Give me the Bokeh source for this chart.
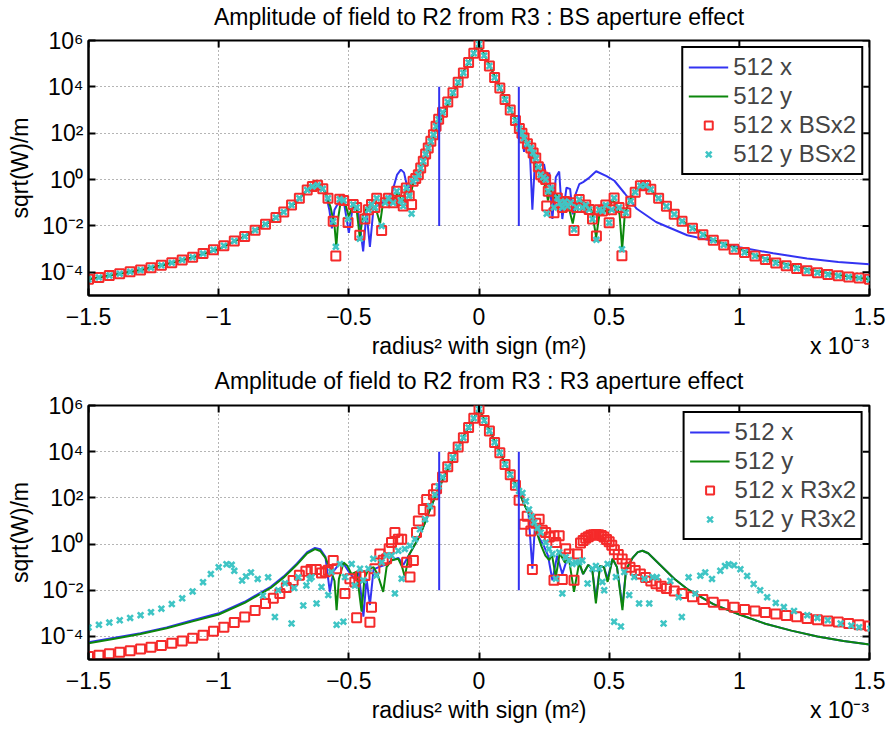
import numpy as np
from bokeh.plotting import figure
from bokeh.models import (Range1d, LinearAxis, FixedTicker, CustomJSTickFormatter, Legend, LegendItem)
from bokeh.layouts import column
from bokeh.embed import file_html
from bokeh.resources import INLINE

FONT = "Liberation Sans"

# ---------------- data (x in units of 1e-3 m^2, y given as log10 of sqrt(W)/m) ----------------
x_ticks = [-1.5, -1.0, -0.5, 0.0, 0.5, 1.0, 1.5]
y_ticks = [1e-4, 1e-2, 1e0, 1e2, 1e4, 1e6]
x_label_text = "radius\u00b2 with sign (m\u00b2)"
x_scale_text = "x 10\u207b\u00b3"
x_label_pos = [0.0, 1.385]

aperture_x = [-0.153, 0.153]
aperture_lo = [1e-2, 1e-2]
aperture_hi = [1e4, 1e4]

# ---- top panel : BS aperture effect ----
blue_top_x = [-1.50, -1.40, -1.30, -1.20, -1.10, -1.00, -0.90, -0.80, -0.75, -0.70, -0.66, -0.63, -0.61, -0.59,
              -0.575, -0.565, -0.555, -0.54, -0.52, -0.50, -0.485, -0.465, -0.445, -0.432, -0.419, -0.405, -0.385,
              -0.36, -0.335, -0.315, -0.30, -0.288, -0.275, -0.26, -0.25, -0.23, -0.21, -0.19, -0.17, -0.153,
              -0.10, -0.05, 0.00, 0.05, 0.10, 0.153,
              0.165, 0.173, 0.182, 0.195, 0.205, 0.215, 0.228, 0.24, 0.25, 0.26, 0.27, 0.282, 0.295, 0.308, 0.32,
              0.336, 0.35, 0.36, 0.372, 0.385, 0.40, 0.42, 0.45, 0.49, 0.52, 0.56, 0.606, 0.68, 0.80, 0.88, 1.00,
              1.13, 1.26, 1.38, 1.50]
blue_top_log = [-4.30, -4.10, -3.90, -3.65, -3.35, -3.00, -2.45, -1.80, -1.40, -0.95, -0.45, -0.25, -0.28, -0.55,
                -1.3, -2.1, -1.3, -1.0, -0.9, -2.3, -1.2, -1.3, -3.1, -1.4, -2.9, -1.2, -1.1,
                -0.9, -0.6, 0.2, 0.43, 0.3, -0.35, -0.3, 0.0, 0.3, 0.85, 1.45, 2.0, 2.45,
                3.7, 4.85, 5.85, 4.7, 3.5, 2.3,
                1.9, 1.2, 1.6, 1.3, -1.3, 0.8, 0.5, 0.65, 0.65, 0.0, 0.3, -1.7, 0.1, 0.35, -1.7,
                -0.35, -0.4, -1.5, -0.6, -0.2, -0.11, 0.05, 0.36, 0.15, -0.05, -0.6, -1.26, -1.83, -2.4, -2.6, -2.92,
                -3.18, -3.4, -3.55, -3.65]

green_top_x = [-1.50, -1.40, -1.30, -1.20, -1.10, -1.00, -0.90, -0.80, -0.75, -0.70, -0.66, -0.63, -0.61, -0.59,
               -0.57, -0.555, -0.548, -0.54, -0.53, -0.515, -0.50, -0.485, -0.47, -0.458, -0.445, -0.43, -0.41,
               -0.395, -0.38, -0.37, -0.35, -0.33, -0.31, -0.295, -0.28, -0.265, -0.25, -0.23, -0.21, -0.19,
               -0.17, -0.153,
               -0.10, -0.05, 0.00, 0.05, 0.10, 0.153,
               0.17, 0.19, 0.21, 0.225, 0.24, 0.255, 0.265, 0.275, 0.29, 0.30, 0.315, 0.33, 0.345, 0.36, 0.375,
               0.39, 0.405, 0.42, 0.435, 0.45, 0.465, 0.48, 0.495, 0.51, 0.525, 0.54, 0.55, 0.56, 0.575, 0.595,
               0.615, 0.635, 0.66, 0.70, 0.75, 0.80, 0.90, 1.00, 1.10, 1.20, 1.30, 1.40, 1.50]
green_top_log = [-4.30, -4.10, -3.90, -3.65, -3.35, -3.00, -2.45, -1.80, -1.40, -0.95, -0.45, -0.25, -0.28, -0.55,
                 -1.2, -2.0, -2.9, -1.6, -0.85, -1.0, -1.6, -1.1, -1.3, -2.5, -1.5, -1.2, -1.1,
                 -1.3, -1.9, -1.1, -0.8, -0.9, -0.55, -1.0, -0.4, -0.8, 0.0, 0.3, 0.85, 1.45,
                 2.0, 2.45,
                 3.7, 4.85, 5.85, 4.7, 3.5, 2.3,
                 1.8, 1.35, 0.9, 0.4, 0.1, -0.3, -0.9, -0.4, -0.8, -0.65, -1.1, -0.9, -1.2, -1.9, -1.0,
                 -0.85, -1.3, -1.1, -1.4, -2.5, -1.3, -1.2, -1.5, -0.9, -1.0, -1.5, -3.0, -1.5, -1.0, -0.55,
                 -0.3, -0.25, -0.45, -0.95, -1.5, -1.95, -2.6, -3.0, -3.4, -3.7, -3.95, -4.15, -4.3]

marker_top_x = [-1.50, -1.46, -1.42, -1.38, -1.34, -1.30, -1.26, -1.22, -1.18, -1.14, -1.10, -1.06, -1.02, -0.98,
                -0.94, -0.90, -0.86, -0.82, -0.78, -0.75, -0.72, -0.69, -0.66, -0.64, -0.62, -0.60, -0.58,
                -0.56, -0.55, -0.535, -0.52, -0.503, -0.483, -0.47, -0.458, -0.438, -0.425, -0.413, -0.40, -0.393,
                -0.374, -0.36, -0.348, -0.33, -0.316, -0.30, -0.291, -0.279, -0.268, -0.259, -0.253, -0.243,
                -0.233, -0.224, -0.214, -0.205, -0.195, -0.185, -0.175, -0.165, -0.155,
                -0.14, -0.12, -0.10, -0.08, -0.06, -0.04, -0.02, 0.0, 0.02, 0.04, 0.06, 0.08, 0.10, 0.12, 0.14,
                0.155, 0.165, 0.173, 0.186, 0.199, 0.208, 0.218, 0.228, 0.237, 0.247, 0.256, 0.26, 0.266, 0.276,
                0.288, 0.301, 0.31, 0.32, 0.33, 0.34, 0.352, 0.365, 0.375, 0.385, 0.397, 0.41, 0.423, 0.436,
                0.451, 0.462, 0.474, 0.487, 0.50, 0.51, 0.519, 0.538, 0.549, 0.564, 0.583, 0.60, 0.62, 0.64, 0.66,
                0.69, 0.72, 0.75, 0.78, 0.82, 0.86, 0.90, 0.94, 0.98, 1.02, 1.06, 1.10, 1.14, 1.18, 1.22, 1.26,
                1.30, 1.34, 1.38, 1.42, 1.46, 1.50]
red_top_log = [-4.30, -4.22, -4.14, -4.06, -3.98, -3.90, -3.80, -3.70, -3.59, -3.47, -3.35, -3.19, -3.03, -2.85,
               -2.65, -2.45, -2.19, -1.93, -1.64, -1.40, -1.10, -0.80, -0.45, -0.30, -0.24, -0.40, -0.80,
               -1.8, -3.3, -0.85, -0.9, -1.85, -1.07, -1.2, -2.4, -1.7, -1.3, -1.07, -1.2, -0.8,
               -2.2, -1.0, -0.8, -1.0, -0.5, -0.9, -1.14, -0.36, -0.7, -1.07, -0.07, 0.05,
               0.21, 0.5, 0.79, 1.1, 1.36, 1.65, 1.93, 2.3, 2.6,
               2.9, 3.35, 3.75, 4.2, 4.6, 5.05, 5.45, 5.85, 5.35, 4.9, 4.4, 3.95, 3.45, 3.0, 2.55,
               2.2, 2.0, 1.79, 1.55, 1.36, 1.15, 0.93, 0.55, 0.21, 0.1, 0.0, -1.14, -0.5, -0.36,
               -1.43, -0.79, -1.0, -1.2, -0.95, -1.14, -1.0, -2.2, -1.2, -0.86, -1.2, -1.1, -1.29, -1.7,
               -2.43, -1.3, -1.36, -1.1, -1.86, -1.3, -0.79, -1.2, -3.29, -1.43, -0.93, -0.55, -0.27, -0.25, -0.42,
               -0.8, -1.15, -1.5, -1.8, -2.1, -2.38, -2.62, -2.82, -3.0, -3.15, -3.3, -3.45, -3.6, -3.72, -3.83, -3.93,
               -4.02, -4.09, -4.15, -4.2, -4.25, -4.3]
cyan_top_log = [-4.30, -4.22, -4.14, -4.06, -3.98, -3.90, -3.80, -3.70, -3.59, -3.47, -3.35, -3.19, -3.03, -2.85,
                -2.65, -2.45, -2.19, -1.93, -1.64, -1.40, -1.10, -0.80, -0.45, -0.30, -0.24, -0.40, -0.80,
                -1.8, -2.9, -0.85, -0.9, -1.7, -1.07, -1.2, -2.55, -1.7, -1.3, -1.07, -1.2, -0.8,
                -2.0, -1.0, -0.8, -1.0, -0.5, -0.9, -1.14, -0.36, -0.7, -1.47, -0.07, 0.05,
                0.21, 0.5, 0.79, 1.1, 1.36, 1.65, 1.93, 2.3, 2.6,
                2.9, 3.35, 3.75, 4.2, 4.6, 5.05, 5.45, 5.85, 5.35, 4.9, 4.4, 3.95, 3.45, 3.0, 2.55,
                2.2, 2.0, 1.79, 1.55, 1.36, 1.15, 0.93, 0.55, 0.21, 0.1, 0.0, -1.47, -0.5, -0.36,
                -1.2, -0.79, -1.0, -1.2, -0.95, -1.14, -1.0, -2.15, -1.2, -0.86, -1.2, -1.1, -1.29, -1.7,
                -2.6, -1.3, -1.36, -1.1, -1.86, -1.3, -0.79, -1.2, -3.0, -1.43, -0.93, -0.55, -0.27, -0.25, -0.42,
                -0.8, -1.15, -1.5, -1.8, -2.1, -2.38, -2.62, -2.82, -3.0, -3.15, -3.3, -3.45, -3.6, -3.72, -3.83, -3.93,
                -4.02, -4.09, -4.15, -4.2, -4.25, -4.3]

# ---- bottom panel : R3 aperture effect ----
blue_bot_x = [-1.50, -1.40, -1.30, -1.20, -1.10, -1.00, -0.90, -0.80, -0.75, -0.70, -0.66, -0.63, -0.61, -0.59,
              -0.573, -0.56, -0.54, -0.52, -0.50, -0.48, -0.462, -0.444, -0.432, -0.419, -0.405, -0.385, -0.36,
              -0.335, -0.31, -0.29, -0.27, -0.25, -0.23, -0.21, -0.19, -0.17, -0.153,
              -0.10, -0.05, 0.00, 0.05, 0.10, 0.153,
              0.17, 0.19, 0.205, 0.215, 0.23, 0.25, 0.265, 0.282, 0.30, 0.32, 0.34, 0.36, 0.38,
              0.40, 0.42, 0.435, 0.449, 0.465, 0.48, 0.494, 0.513, 0.53, 0.551, 0.565, 0.59, 0.61, 0.628, 0.65,
              0.70, 0.75, 0.80, 0.90, 1.00, 1.10, 1.20, 1.30, 1.40, 1.50]
blue_bot_log = [-4.25, -4.06, -3.86, -3.61, -3.30, -3.00, -2.50, -1.85, -1.40, -0.85, -0.35, -0.17, -0.22, -0.55,
                -2.07, -1.2, -0.9, -0.85, -1.2, -1.5, -1.2, -3.14, -1.5, -2.64, -1.1, -1.0, -0.9,
                -0.7, -0.6, -0.9, -0.5, -0.1, 0.3, 0.85, 1.45, 2.0, 2.45,
                3.7, 4.85, 5.85, 4.7, 3.5, 2.3,
                1.8, 1.35, -1.07, 0.8, 0.3, -0.1, -0.5, -1.57, -0.5, -1.3, -0.6, -0.9, -0.7,
                -1.3, -0.9, -1.1, -2.4, -0.95, -1.0, -1.5, -0.64, -1.0, -2.7, -1.1, -0.6, -0.35, -0.29, -0.4,
                -0.95, -1.5, -1.95, -2.6, -3.05, -3.45, -3.75, -4.0, -4.2, -4.35]

green_bot_x = [-1.50, -1.40, -1.30, -1.20, -1.10, -1.00, -0.90, -0.80, -0.75, -0.70, -0.66, -0.63, -0.61, -0.59,
               -0.57, -0.555, -0.547, -0.538, -0.52, -0.505, -0.49, -0.47, -0.451, -0.44, -0.425, -0.405, -0.39,
               -0.368, -0.355, -0.335, -0.31, -0.295, -0.285, -0.27, -0.25, -0.23, -0.21, -0.19, -0.17, -0.153,
               -0.10, -0.05, 0.00, 0.05, 0.10, 0.153,
               0.17, 0.19, 0.21, 0.225, 0.24, 0.255, 0.27, 0.28, 0.295, 0.31, 0.33, 0.345, 0.365, 0.385,
               0.40, 0.42, 0.435, 0.449, 0.465, 0.48, 0.494, 0.513, 0.53, 0.551, 0.565, 0.59, 0.61, 0.628, 0.65,
               0.70, 0.75, 0.80, 0.90, 1.00, 1.10, 1.20, 1.30, 1.40, 1.50]
green_bot_log = [-4.30, -4.10, -3.90, -3.65, -3.35, -3.05, -2.55, -1.90, -1.45, -0.90, -0.40, -0.22, -0.30, -0.60,
                 -1.1, -1.6, -2.86, -1.5, -0.8, -0.95, -1.3, -1.2, -2.93, -1.5, -1.1, -1.0, -1.3,
                 -2.07, -1.0, -0.7, -0.64, -1.0, -1.43, -0.5, -0.1, 0.3, 0.85, 1.45, 2.0, 2.45,
                 3.7, 4.85, 5.85, 4.7, 3.5, 2.3,
                 1.8, 1.35, 0.9, 0.4, -0.1, -0.5, -0.7, -0.45, -1.43, -0.4, -0.8, -0.6, -2.07, -0.79,
                 -1.3, -0.9, -1.1, -2.57, -0.95, -1.0, -1.64, -0.64, -1.0, -2.86, -1.1, -0.6, -0.35, -0.29, -0.4,
                 -0.95, -1.5, -1.95, -2.6, -3.05, -3.45, -3.75, -4.0, -4.2, -4.35]

red_bot_x = [-1.50, -1.46, -1.42, -1.38, -1.34, -1.30, -1.26, -1.22, -1.18, -1.14, -1.10, -1.06, -1.02, -0.98,
             -0.94, -0.90, -0.86, -0.82, -0.79, -0.765, -0.74, -0.714, -0.69, -0.665, -0.645, -0.625, -0.605, -0.59,
             -0.579, -0.56, -0.547, -0.515, -0.496, -0.477, -0.47, -0.455, -0.438, -0.419, -0.413, -0.40, -0.381,
             -0.368, -0.355, -0.345, -0.336, -0.323, -0.31, -0.297, -0.278, -0.265, -0.252, -0.24, -0.233, -0.214,
             -0.201, -0.188, -0.175, -0.163,
             -0.14, -0.12, -0.10, -0.08, -0.06, -0.04, -0.02, 0.0, 0.02, 0.04, 0.06, 0.08, 0.10, 0.12, 0.14,
             0.154, 0.173, 0.185, 0.199, 0.205, 0.218, 0.231, 0.243, 0.256, 0.27, 0.288, 0.288, 0.295, 0.308,
             0.32, 0.333, 0.346, 0.365, 0.378,
             0.39, 0.40, 0.41, 0.42, 0.43, 0.44, 0.45, 0.46, 0.47, 0.48, 0.49, 0.50, 0.51, 0.52, 0.535, 0.55,
             0.565, 0.58, 0.60, 0.62, 0.64, 0.66, 0.68, 0.70, 0.72, 0.75, 0.78, 0.82, 0.86, 0.90, 0.94, 0.98,
             1.02, 1.06, 1.10, 1.14, 1.18, 1.22, 1.26, 1.30, 1.34, 1.38, 1.42, 1.46, 1.50]
red_bot_log = [-4.87, -4.82, -4.75, -4.69, -4.62, -4.55, -4.47, -4.39, -4.30, -4.20, -4.08, -3.95, -3.78, -3.60,
               -3.40, -3.16, -2.88, -2.58, -2.35, -2.14, -1.88, -1.58, -1.35, -1.18, -1.10, -1.10, -1.25, -1.20,
               -1.14, -0.71, -1.07, -2.14, -1.5, -1.64, -3.19, -1.4, -1.36, -3.39, -2.74, -1.07, -0.43,
               -0.7, -0.64, -0.2, 0.07, 0.5, 0.21, 0.21, -0.79, -1.43, -0.71, 0.5, 1.0, 1.5,
               1.93, 1.43, 2.14, 2.4,
               2.9, 3.35, 3.75, 4.2, 4.6, 5.05, 5.45, 5.85, 5.35, 4.9, 4.4, 3.95, 3.45, 3.0, 2.55,
               1.9, 0.86, 1.2, 0.57, -1.1, 0.9, 1.07, 0.6, 0.5, 0.3, 0.36, -1.57, 0.07, 0.36,
               -1.54, -0.2, -0.43, -1.57, -0.43,
               0.05, 0.15, 0.25, 0.32, 0.38, 0.4, 0.41, 0.4, 0.37, 0.3, 0.2, 0.1, -0.05, -0.25, -0.45, -0.65,
               -0.85, -1.0, -1.15, -1.3, -1.45, -1.6, -1.72, -1.83, -1.93, -2.03, -2.14, -2.28, -2.4, -2.52, -2.63, -2.74,
               -2.83, -2.9, -2.96, -3.03, -3.09, -3.15, -3.22, -3.28, -3.33, -3.38, -3.44, -3.50, -3.55]

cyan_bot_x = [-1.50, -1.46, -1.42, -1.38, -1.34, -1.30, -1.26, -1.22, -1.18, -1.14,
              -1.10, -1.06, -1.03, -1.00, -0.97, -0.95, -0.94, -0.91, -0.895, -0.876,
              -0.85, -0.83, -0.81, -0.784, -0.771, -0.745, -0.72, -0.71, -0.694, -0.675,
              -0.663, -0.65, -0.643, -0.624, -0.605, -0.579, -0.567, -0.547, -0.534,
              -0.521, -0.515, -0.489, -0.477, -0.457, -0.444, -0.425, -0.406, -0.394, -0.374,
              -0.355, -0.336, -0.323, -0.31, -0.297, -0.285, -0.265, -0.246, -0.227, -0.207,
              -0.188, -0.169, -0.155,
              -0.14, -0.12, -0.10, -0.08, -0.06, -0.04, -0.02, 0.0, 0.02, 0.04, 0.06, 0.08, 0.10, 0.12, 0.14,
              0.154, 0.167, 0.18, 0.192, 0.202, 0.212, 0.225, 0.237, 0.256, 0.269,
              0.282, 0.295, 0.308, 0.32, 0.333, 0.346, 0.359, 0.372, 0.385, 0.397,
              0.417, 0.436, 0.449, 0.462, 0.474, 0.481, 0.494, 0.519, 0.526, 0.545,
              0.558, 0.577, 0.596, 0.615, 0.635, 0.654, 0.667, 0.683, 0.709, 0.735,
              0.767, 0.779, 0.805, 0.831, 0.85, 0.869, 0.895, 0.927, 0.945, 0.959,
              0.98, 1.004, 1.03, 1.055, 1.08, 1.107, 1.14, 1.171, 1.21, 1.261,
              1.30, 1.34, 1.389, 1.43, 1.46, 1.504]
cyan_bot_log = [-3.61, -3.5, -3.4, -3.3, -3.2, -3.08, -2.95, -2.8, -2.6, -2.35,
                -2.05, -1.65, -1.3, -1.0, -0.87, -0.9, -1.16, -1.58, -1.4, -1.23,
                -1.51, -2.23, -1.44, -3.16, -2.0, -1.7, -3.44, -1.9, -1.44, -2.66,
                -1.79, -1.51, -1.43, -2.57, -1.86, -2.21, -1.21, -3.5, -0.86,
                -3.36, -1.43, -0.86, -1.79, -1.07, -1.57, -1.07, -0.64, -1.36, -0.79,
                -0.5, -0.5, -2.14, -0.29, -1.5, -0.21, -0.07, 0.21, 0.64, 1.07,
                1.64, 2.14, 2.5,
                2.9, 3.35, 3.75, 4.2, 4.6, 5.05, 5.45, 5.85, 5.35, 4.9, 4.4, 3.95, 3.45, 3.0, 2.55,
                2.3, 2.21, 1.85, 1.5, 1.2, 0.93, 0.7, 0.5, 0.07, -0.21,
                -0.43, -1.5, -0.36, -2.14, -0.57, -0.7, -0.86, -0.8, -0.79, -0.71,
                -1.71, -1.07, -0.95, -1.07, -1.64, -2.0, -0.86, -3.36, -1.43, -3.57,
                -1.21, -2.21, -1.43, -2.57, -1.5, -2.57, -1.43, -1.44, -3.44, -1.6,
                -2.3, -3.16, -1.44, -2.15, -1.37, -1.23, -1.51, -1.16, -0.95, -0.87,
                -0.92, -1.09, -1.38, -1.73, -2.0, -2.3, -2.55, -2.73, -2.9, -3.08,
                -3.2, -3.3, -3.44, -3.53, -3.6, -3.66]

for a, b in [(blue_top_x, blue_top_log), (green_top_x, green_top_log), (marker_top_x, red_top_log),
             (marker_top_x, cyan_top_log), (blue_bot_x, blue_bot_log), (green_bot_x, green_bot_log),
             (red_bot_x, red_bot_log), (cyan_bot_x, cyan_bot_log)]:
    assert len(a) == len(b), (len(a), len(b))


def dec(v):
    return [10.0 ** e for e in v]


BLUE = "#3333f2"
GREEN = "#0c870c"
RED = "#f52a2a"
CYAN = "#3fc5c5"
FS = "23px"

Y_FMT = CustomJSTickFormatter(code="""
const e = Math.round(Math.log10(tick));
const m = {"-": "\u207b", "0": "\u2070", "1": "\u00b9", "2": "\u00b2", "3": "\u00b3", "4": "\u2074",
           "5": "\u2075", "6": "\u2076", "7": "\u2077", "8": "\u2078", "9": "\u2079"};
return "10" + String(e).split("").map(c => m[c]).join("");
""")
X_FMT = CustomJSTickFormatter(code="""
return tick < 0 ? "\u2212" + Math.abs(tick) : "" + tick;
""")
XLAB_FMT = CustomJSTickFormatter(args=dict(a=x_label_text, b=x_scale_text), code="""
return tick == 0 ? a : b;
""")


def style_axis(ax):
    ax.major_tick_in = 7
    ax.major_tick_out = 0
    ax.minor_tick_line_color = None
    ax.axis_line_width = 2
    ax.major_tick_line_width = 2
    ax.axis_line_color = "black"
    ax.major_tick_line_color = "black"
    ax.major_label_text_font = FONT
    ax.major_label_text_font_size = FS
    ax.major_label_text_color = "black"
    ax.axis_label_text_font = FONT
    ax.axis_label_text_font_size = FS
    ax.axis_label_text_font_style = "normal"
    ax.axis_label_text_color = "black"


def bare_axis(ax):
    ax.axis_line_color = None
    ax.major_tick_line_color = None
    ax.minor_tick_line_color = None
    ax.major_tick_in = 0
    ax.major_tick_out = 0
    ax.major_label_text_font = FONT
    ax.major_label_text_font_size = FS
    ax.major_label_text_color = "black"
    ax.axis_label_text_font = FONT
    ax.axis_label_text_font_size = FS
    ax.axis_label_text_font_style = "normal"
    ax.axis_label_text_color = "black"


def panel(title, height, b_top, b_bottom, title_gap, bx, by, gx, gy, rx, ry, cx, cy, names):
    p = figure(width=889, height=height, x_range=Range1d(-1.5, 1.5), y_range=Range1d(1e-5, 1e6),
               y_axis_type="log", output_backend="svg", toolbar_location=None,
               min_border_left=88, min_border_right=20, min_border_top=b_top, min_border_bottom=b_bottom)
    p.background_fill_color = "white"
    p.border_fill_color = "white"
    p.outline_line_color = "black"
    p.outline_line_width = 2

    x_ax = p.below[0]
    y_ax = p.left[0]
    x_ax.ticker = FixedTicker(ticks=x_ticks)
    x_ax.formatter = X_FMT
    y_ax.ticker = FixedTicker(ticks=y_ticks)
    y_ax.formatter = Y_FMT
    y_ax.axis_label = "sqrt(W)/m"
    style_axis(x_ax)
    style_axis(y_ax)
    x_ax.major_label_standoff = 12
    y_ax.major_label_standoff = 5
    y_ax.axis_label_standoff = 4

    # title drawn as the label of an (otherwise empty) top axis
    top_ax = LinearAxis(ticker=FixedTicker(ticks=[]), axis_label=title)
    bare_axis(top_ax)
    top_ax.major_label_standoff = 0
    top_ax.axis_label_standoff = title_gap
    p.add_layout(top_ax, "above")

    # second row below: x-axis label and the "x 10^-3" multiplier on one line
    lab_ax = LinearAxis(ticker=FixedTicker(ticks=x_label_pos), formatter=XLAB_FMT)
    bare_axis(lab_ax)
    lab_ax.major_label_standoff = 5
    p.add_layout(lab_ax, "below")

    p.xgrid.ticker = FixedTicker(ticks=x_ticks)
    p.ygrid.ticker = FixedTicker(ticks=y_ticks)
    for g in (p.xgrid[0], p.ygrid[0]):
        g.grid_line_color = "#6a6a6a"
        g.grid_line_dash = "1 3"
        g.grid_line_width = 1

    r_b = p.line(bx, dec(by), line_color=BLUE, line_width=2)
    r_g = p.line(gx, dec(gy), line_color=GREEN, line_width=2)
    r_r = p.scatter(rx, dec(ry), marker="square", size=9, fill_color=None, line_color=RED, line_width=2)
    r_c = p.scatter(cx, dec(cy), marker="x", size=8, line_color=CYAN, line_width=2.6)
    p.segment(x0=aperture_x, y0=aperture_lo, x1=aperture_x, y1=aperture_hi, line_color=BLUE, line_width=2)

    # inward tick marks on the top and right edges (half of each dash is clipped by the frame)
    p.scatter(x=x_ticks, y=[p.y_range.end] * len(x_ticks), marker="dash", angle=np.pi / 2,
              size=14, line_color="black", line_width=2)
    p.scatter(x=[p.x_range.end] * len(y_ticks), y=y_ticks, marker="dash",
              size=14, line_color="black", line_width=2)

    legend = Legend(items=[LegendItem(label=names[0], renderers=[r_b]),
                           LegendItem(label=names[1], renderers=[r_g]),
                           LegendItem(label=names[2], renderers=[r_r]),
                           LegendItem(label=names[3], renderers=[r_c])],
                    location="top_right")
    legend.label_text_font = FONT
    legend.label_text_font_size = "24px"
    legend.glyph_width = 40
    legend.glyph_height = 20
    legend.label_standoff = 5
    legend.padding = 5
    legend.spacing = 1
    legend.margin = 6
    legend.border_line_color = "black"
    legend.border_line_alpha = 1.0
    legend.border_line_width = 2
    legend.background_fill_color = "white"
    legend.background_fill_alpha = 1.0
    p.add_layout(legend)
    return p


p1 = panel("Amplitude of field to R2 from R3 : BS aperture effect", 364, 38, 69, 11,
           blue_top_x, blue_top_log, green_top_x, green_top_log,
           marker_top_x, red_top_log, marker_top_x, cyan_top_log,
           ["512 x", "512 y", "512 x BSx2", "512 y BSx2"])
p2 = panel("Amplitude of field to R2 from R3 : R3 aperture effect", 365, 39, 70, 12,
           blue_bot_x, blue_bot_log, green_bot_x, green_bot_log,
           red_bot_x, red_bot_log, cyan_bot_x, cyan_bot_log,
           ["512 x", "512 y", "512 x R3x2", "512 y R3x2"])

layout = column(p1, p2)
open("out.html", "w").write(file_html(layout, INLINE, "chart"))
